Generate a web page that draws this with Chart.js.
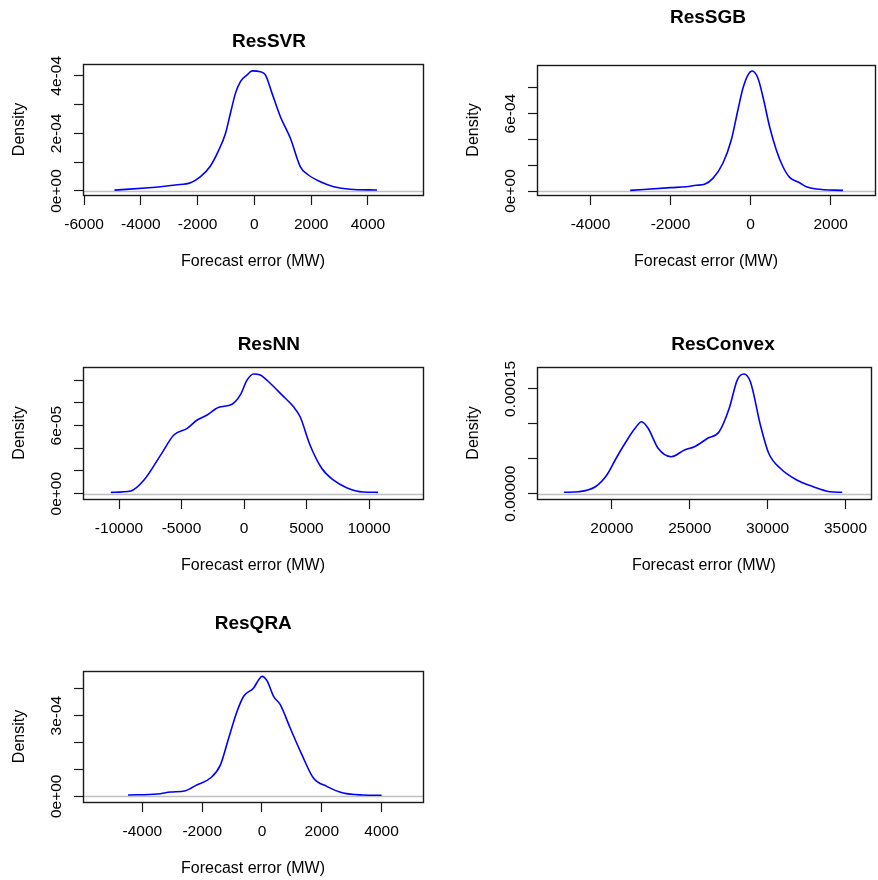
<!DOCTYPE html>
<html>
<head>
<meta charset="utf-8">
<script src="https://cdn.jsdelivr.net/npm/chart.js@4.4.1/dist/chart.umd.min.js"></script>
<style>
  html, body { margin: 0; padding: 0; background: #fff; }
  body { width: 878px; height: 880px; position: relative; overflow: hidden; }
  canvas { position: absolute; }
</style>
</head>
<body>
<canvas id="svr"></canvas>
<canvas id="sgb"></canvas>
<canvas id="nn"></canvas>
<canvas id="cvx"></canvas>
<canvas id="qra"></canvas>
<script>
// density curves (x = forecast error in MW)
const svrX = [-4930, -3720, -3310, -2780, -2250, -1900, -1550, -1256, -1020, -845, -669, -493, -258, -82, 211, 387, 622, 915, 1268, 1620, 1855, 2324, 2793, 3380, 4320];
const svrY = [3e-6, 1.15e-5, 1.5e-5, 2.1e-5, 2.9e-5, 5.0e-5, 8.7e-5, 1.42e-4, 2.0e-4, 2.7e-4, 3.39e-4, 3.8e-4, 4.03e-4, 4.17e-4, 4.14e-4, 4.03e-4, 3.39e-4, 2.58e-4, 1.83e-4, 8.4e-5, 5.9e-5, 3.2e-5, 1.5e-5, 6e-6, 3.5e-6];

const sgbX = [-3008, -2000, -1608, -1358, -1150, -942, -692, -483, -317, -192, -67, 42, 183, 308, 475, 642, 808, 975, 1225, 1392, 1642, 2308];
const sgbY = [5e-6, 2.6e-5, 3.3e-5, 4.4e-5, 5.2e-5, 9.8e-5, 2.15e-4, 3.95e-4, 6.28e-4, 7.96e-4, 8.99e-4, 9.3e-4, 8.74e-4, 7.31e-4, 4.98e-4, 3.18e-4, 1.88e-4, 1.06e-4, 6.4e-5, 3.3e-5, 1.5e-5, 5e-6];

const nnX = [-10650, -9060, -8000, -6670, -5610, -4540, -3745, -2950, -2020, -960, -295, 240, 765, 1300, 2095, 3030, 3950, 4490, 5280, 6215, 7140, 8210, 9530, 10725];
const nnY = [1.2e-6, 2.4e-6, 1.2e-5, 3.4e-5, 5.17e-5, 5.76e-5, 6.49e-5, 6.93e-5, 7.61e-5, 7.88e-5, 8.7e-5, 1.0e-4, 1.055e-4, 1.046e-4, 9.73e-5, 8.7e-5, 7.67e-5, 6.78e-5, 4.29e-5, 2.24e-5, 1.21e-5, 5.3e-6, 1.5e-6, 1.2e-6];

const cvxX = [16930, 17880, 18945, 19680, 20215, 20850, 21490, 21910, 22330, 22970, 23815, 24665, 25300, 26150, 26890, 27530, 28055, 28480, 28900, 29535, 30070, 30810, 31870, 32930, 33985, 34790];
const cvxY = [2e-6, 2.9e-6, 1.0e-5, 2.68e-5, 4.83e-5, 7.22e-5, 9.37e-5, 1.031e-4, 9.37e-5, 6.5e-5, 5.3e-5, 6.26e-5, 6.73e-5, 7.94e-5, 8.88e-5, 1.22e-4, 1.63e-4, 1.715e-4, 1.6e-4, 9.84e-5, 5.79e-5, 3.64e-5, 1.96e-5, 1.0e-5, 2.9e-6, 2e-6];

const qraX = [-4480, -3500, -3057, -2557, -2167, -1723, -1390, -1113, -833, -613, -280, -113, 0, 167, 387, 610, 943, 1333, 1720, 2167, 2720, 3387, 4000];
const qraY = [5e-6, 8.6e-6, 1.6e-5, 2.1e-5, 4.3e-5, 6.8e-5, 1.17e-4, 2.17e-4, 3.16e-4, 3.72e-4, 4.03e-4, 4.33e-4, 4.46e-4, 4.3e-4, 3.72e-4, 3.41e-4, 2.54e-4, 1.55e-4, 6.8e-5, 3.7e-5, 1.2e-5, 5e-6, 4e-6];

// tick values and labels
const svrXTicks = [-6000, -4000, -2000, 0, 2000, 4000];
const svrYTicks = [0, 1e-4, 2e-4, 3e-4, 4e-4];
const svrYLabels = ['0e+00', '', '2e-04', '', '4e-04'];

const sgbXTicks = [-4000, -2000, 0, 2000];
const sgbYTicks = [0, 2e-4, 4e-4, 6e-4, 8e-4];
const sgbYLabels = ['0e+00', '', '', '6e-04', ''];

const nnXTicks = [-10000, -5000, 0, 5000, 10000];
const nnYTicks = [0, 2e-5, 4e-5, 6e-5, 8e-5, 1e-4];
const nnYLabels = ['0e+00', '', '', '6e-05', '', ''];

const cvxXTicks = [20000, 25000, 30000, 35000];
const cvxYTicks = [0, 5e-5, 1e-4, 1.5e-4];
const cvxYLabels = ['0.00000', '', '', '0.00015'];

const qraXTicks = [-4000, -2000, 0, 2000, 4000];
const qraYTicks = [0, 1e-4, 2e-4, 3e-4, 4e-4];
const qraYLabels = ['0e+00', '', '', '3e-04', ''];

const FONT = '"Liberation Sans", Arial, sans-serif';
Chart.defaults.font.family = FONT;
Chart.defaults.color = '#000';

const panels = [
  { id: 'svr', title: 'ResSVR', xs: svrX, ys: svrY, xTicks: svrXTicks, yTicks: svrYTicks, yLabels: svrYLabels,
    xr: [-6040, 5940], yr: [-1.39e-5, 4.41e-4],
    pos: { left: 0, top: 0, w: 440, h: 290 }, area: { l: 83, t: 64, r: 423, b: 195 }, titleAt: [269, 42], yTitleX: 19.3 },
  { id: 'sgb', title: 'ResSGB', xs: sgbX, ys: sgbY, xTicks: sgbXTicks, yTicks: sgbYTicks, yLabels: sgbYLabels,
    xr: [-5335, 3107], yr: [-3.1e-5, 9.77e-4],
    pos: { left: 440, top: 0, w: 438, h: 290 }, area: { l: 97, t: 65, r: 435, b: 195 }, titleAt: [268, 17.5], yTitleX: 33.3 },
  { id: 'nn', title: 'ResNN', xs: nnX, ys: nnY, xTicks: nnXTicks, yTicks: nnYTicks, yLabels: nnYLabels,
    xr: [-12880, 14320], yr: [-4.67e-6, 1.116e-4],
    pos: { left: 0, top: 300, w: 440, h: 290 }, area: { l: 83, t: 67, r: 423, b: 199 }, titleAt: [268.8, 44.5], yTitleX: 19.3 },
  { id: 'cvx', title: 'ResConvex', xs: cvxX, ys: cvxY, xTicks: cvxXTicks, yTicks: cvxYTicks, yLabels: cvxYLabels,
    xr: [15197, 36624], yr: [-7.6e-6, 1.815e-4],
    pos: { left: 440, top: 300, w: 438, h: 290 }, area: { l: 97, t: 67, r: 435, b: 199 }, titleAt: [283, 44.5], yTitleX: 33.3 },
  { id: 'qra', title: 'ResQRA', xs: qraX, ys: qraY, xTicks: qraXTicks, yTicks: qraYTicks, yLabels: qraYLabels,
    xr: [-5987, 5385], yr: [-2.12e-5, 4.66e-4],
    pos: { left: 0, top: 600, w: 440, h: 280 }, area: { l: 83, t: 71, r: 423, b: 202 }, titleAt: [253.3, 24], yTitleX: 19.3 }
];

const TICK_SIZE = 15.5;
const measure = document.createElement('canvas').getContext('2d');
measure.font = TICK_SIZE + 'px ' + FONT;

// plot box, grey zero line (abline) and the panel title
const frame = {
  id: 'frame',
  beforeDatasetsDraw(chart) {
    const { ctx, chartArea: a, scales: { y } } = chart;
    const y0 = Math.round(y.getPixelForValue(0)) + 0.5;
    ctx.save();
    ctx.strokeStyle = '#c0c0c0';
    ctx.lineWidth = 1.4;
    ctx.beginPath();
    ctx.moveTo(a.left, y0);
    ctx.lineTo(a.right, y0);
    ctx.stroke();
    ctx.restore();
  },
  afterDraw(chart, args, opts) {
    const { ctx, chartArea: a } = chart;
    ctx.save();
    ctx.strokeStyle = '#1a1a1a';
    ctx.lineWidth = 1.4;
    ctx.strokeRect(Math.round(a.left) + 0.5, Math.round(a.top) + 0.5,
      Math.round(a.right - a.left), Math.round(a.bottom - a.top));
    ctx.fillStyle = '#000';
    ctx.font = 'bold 19px ' + FONT;
    ctx.textAlign = 'center';
    ctx.textBaseline = 'middle';
    ctx.fillText(opts.text, opts.x, opts.y);
    ctx.restore();
  }
};

panels.forEach(p => {
  const cv = document.getElementById(p.id);
  cv.width = p.pos.w;
  cv.height = p.pos.h;
  cv.style.left = p.pos.left + 'px';
  cv.style.top = p.pos.top + 'px';
  cv.style.width = p.pos.w + 'px';
  cv.style.height = p.pos.h + 'px';

  const widest = Math.max(...p.yLabels.map(s => measure.measureText(s).width));
  const xAxisH = p.pos.h - p.area.b;

  new Chart(cv, {
    type: 'line',
    data: {
      datasets: [{
        data: p.xs.map((x, i) => ({ x: x, y: p.ys[i] })),
        borderColor: '#0000ff',
        borderWidth: 1.6,
        pointRadius: 0,
        cubicInterpolationMode: 'monotone',
        fill: false
      }]
    },
    plugins: [frame],
    options: {
      responsive: false,
      animation: false,
      layout: { padding: { left: 0, top: p.area.t, right: p.pos.w - p.area.r, bottom: 0 } },
      plugins: {
        legend: { display: false },
        tooltip: { enabled: false },
        frame: { text: p.title, x: p.titleAt[0], y: p.titleAt[1] }
      },
      scales: {
        x: {
          type: 'linear',
          min: p.xr[0],
          max: p.xr[1],
          afterBuildTicks: s => { s.ticks = p.xTicks.map(v => ({ value: v })); },
          afterFit: s => { s.height = xAxisH; },
          grid: { display: true, drawOnChartArea: false, drawTicks: true, tickLength: 10, tickColor: '#1a1a1a', tickWidth: 1.2 },
          border: { display: false },
          ticks: { autoSkip: false, maxRotation: 0, color: '#000', font: { size: TICK_SIZE }, padding: 10.7,
            callback: v => String(v) },
          title: { display: true, text: 'Forecast error (MW)', color: '#000', font: { size: 16 },
            padding: { top: 0, bottom: xAxisH - 66.5 - 9.6 } }
        },
        y: {
          type: 'linear',
          min: p.yr[0],
          max: p.yr[1],
          afterBuildTicks: s => { s.ticks = p.yTicks.map(v => ({ value: v })); },
          afterFit: s => { s.width = p.area.l; },
          grid: { display: true, drawOnChartArea: false, drawTicks: true, tickLength: 9, tickColor: '#1a1a1a', tickWidth: 1.2 },
          border: { display: false },
          ticks: { autoSkip: false, minRotation: 90, maxRotation: 90, crossAlign: 'center', color: '#000',
            font: { size: TICK_SIZE }, padding: 26 - 9 - widest / 2,
            callback: (v, i) => p.yLabels[i] },
          title: { display: true, text: 'Density', color: '#000', font: { size: 16 },
            padding: { top: p.yTitleX - 9.6, bottom: 0 } }
        }
      }
    }
  });
});
</script>
</body>
</html>
